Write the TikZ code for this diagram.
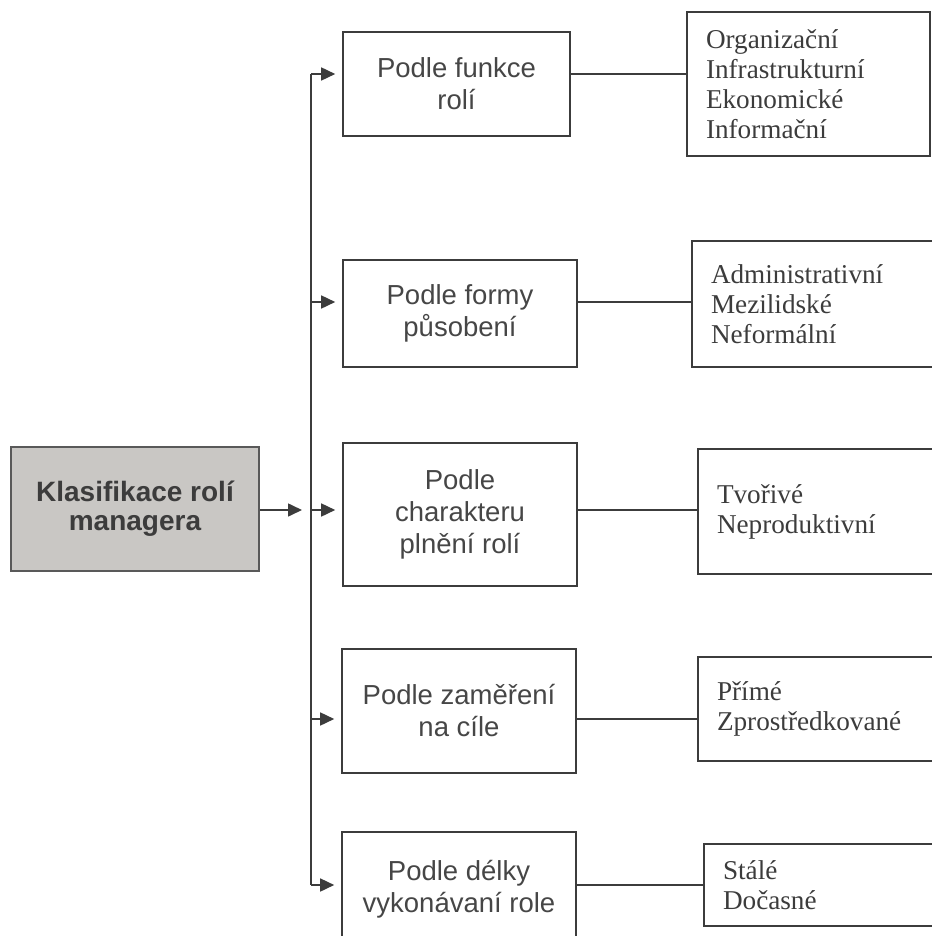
\documentclass[tikz,border=0pt]{standalone}
\usepackage{fontspec}
\setmainfont{Liberation Serif}
\setsansfont{Liberation Sans}
\usetikzlibrary{arrows.meta}
\definecolor{dark}{RGB}{60,60,60}
\definecolor{boxgray}{RGB}{201,199,196}
\definecolor{txtgray}{RGB}{70,70,70}

\begin{document}
\begin{tikzpicture}[
    x=0.5pt, y=-0.5pt,
    mainbox/.style={rectangle, draw=dark!85, line width=1.1pt, fill=boxgray, align=center, font=\sffamily\bfseries\fontsize{14}{14.5}\selectfont, text=dark, inner sep=0pt},
    midbox/.style={rectangle, draw=dark, line width=0.8pt, align=center, font=\sffamily\fontsize{13.75}{16}\selectfont, text=txtgray, inner sep=0pt, minimum width=117pt},
    outbox/.style={rectangle, draw=dark, line width=0.8pt, align=left, font=\fontsize{13.6}{15}\selectfont, text=dark, inner xsep=9.5pt, inner ysep=0pt},
    arr/.style={-{Triangle[length=7pt, width=6.5pt]}, line width=0.8pt, dark},
    link/.style={line width=0.8pt, dark},
]
\useasboundingbox (0,0) rectangle (931,936);

% Root
\node[mainbox, minimum width=124pt, minimum height=62pt] (main) at (135,509) {Klasifikace rolí\\managera};

% Categories
\node[midbox, minimum width=113.5pt, minimum height=52pt] (mid1) at (456.5,84) {Podle funkce\\rolí};
\node[midbox, minimum height=53.5pt] (mid2) at (460,313.5) {Podle formy\\působení};
\node[midbox, minimum height=71.5pt] (mid3) at (460,514.5) {Podle\\charakteru\\plnění rolí};
\node[midbox, minimum height=62pt] (mid4) at (459,711) {Podle zaměření\\na cíle};
\node[midbox, minimum height=57pt] (mid5) at (459,889) {Podle délky\\vykonávaní role};

% Roles
\node[outbox, text width=102.5pt, minimum height=72pt] (out1) at (808.5,84) {Organizační\\Infrastrukturní\\Ekonomické\\Informační};
\node[outbox, text width=105pt, minimum height=63pt] (out2) at (816,304) {Administrativní\\Mezilidské\\Neformální};
\node[outbox, text width=102pt, minimum height=62.5pt] (out3) at (819,511.5) {Tvořivé\\Neproduktivní};
\node[outbox, text width=102pt, minimum height=52pt] (out4) at (819,709) {Přímé\\Zprostředkované};
\node[outbox, text width=99pt, minimum height=41pt] (out5) at (822,885) {Stálé\\Dočasné};

% Bus
\coordinate (b1) at (311,74);
\coordinate (b2) at (311,302);
\coordinate (b3) at (311,510);
\coordinate (b4) at (311,719);
\coordinate (b5) at (311,885);
\draw[link] (b1) -- (b5);

% Arrows
\draw[arr, shorten >=4.5pt] (main.east |- b3) -- (b3);
\foreach \i in {1,...,5} {
  \draw[arr, shorten >=3.5pt] (b\i) -- (b\i -| mid\i.west);
  \draw[link] (mid\i.east |- b\i) -- (out\i.west |- b\i);
}

\end{tikzpicture}
\end{document}
